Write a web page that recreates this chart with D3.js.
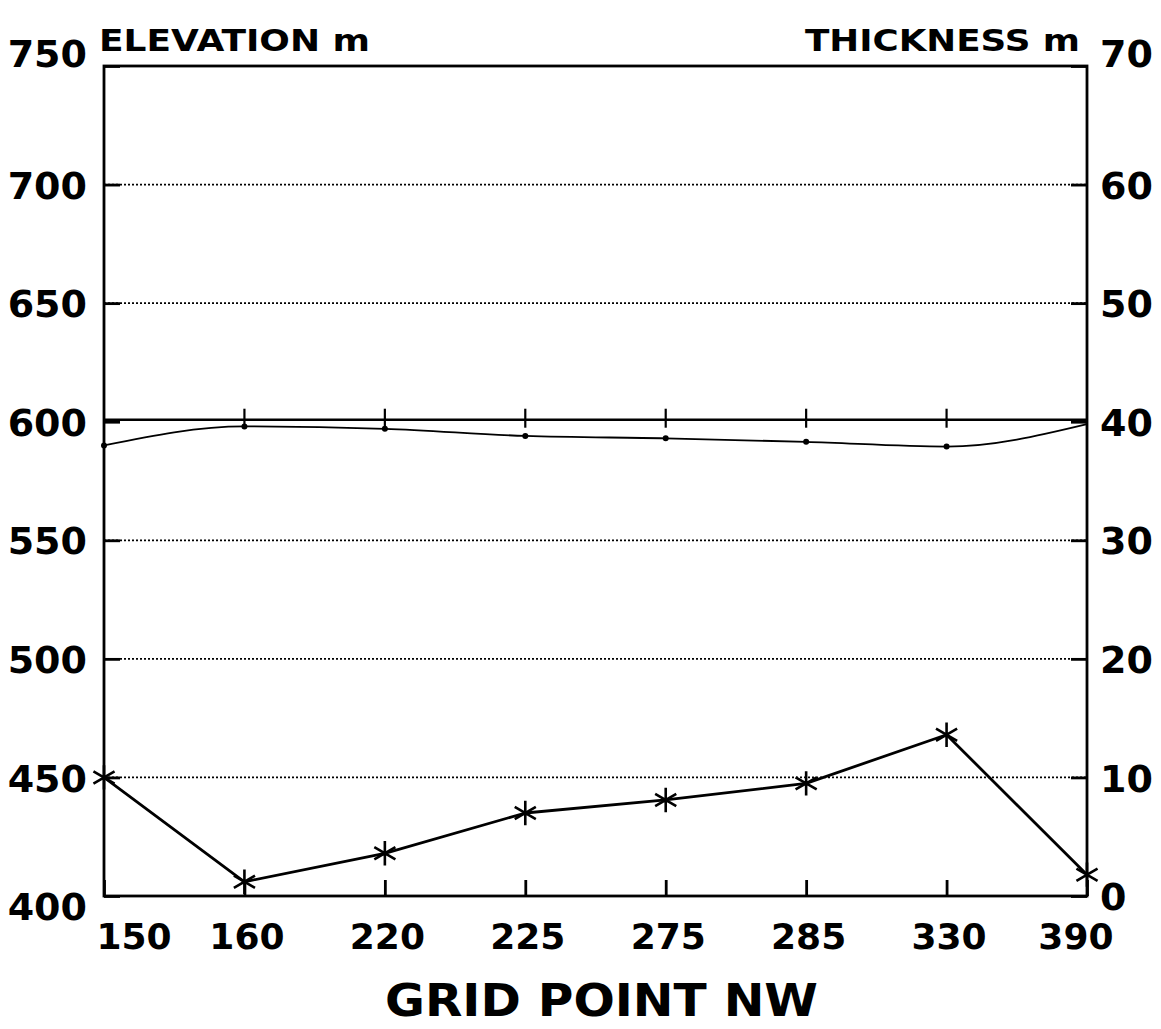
<!DOCTYPE html>
<html lang="en">
<head>
    <meta charset="UTF-8">
    <title>Elevation and thickness by grid point</title>
    <script src="https://cdn.jsdelivr.net/npm/d3@7"></script>
    <style>
        body { margin: 0; background: #fff; }
        svg { display: block; }
        text { font-family: "DejaVu Sans", "Liberation Sans", Arial, sans-serif; font-weight: bold; fill: #000; }
    </style>
</head>
<body>
    <div id="chart-space"></div>

    <script>
        // data
        var gridPoints = ["150", "160", "220", "225", "275", "285", "330", "390"];
        var elevation = [590, 598, 597, 594, 593, 591.5, 589.5, 599];
        var thickness = [10, 1.2, 3.6, 7.0, 8.1, 9.5, 13.6, 1.8];
        var elevTicks = [400, 450, 500, 550, 600, 650, 700, 750];
        var thickTicks = [0, 10, 20, 30, 40, 50, 60, 70];

        var width = 1161;
        var height = 1029;
        var margin = {top: 66, right: 74, bottom: 133, left: 104};
        var chartWidth = width - margin.left - margin.right;
        var chartHeight = height - margin.top - margin.bottom;

        var svg = d3.select("#chart-space")
            .append("svg")
            .attr("width", width)
            .attr("height", height);

        var g = svg.append("g")
            .attr("transform", "translate(" + margin.left + "," + margin.top + ")");

        var xScale = d3.scalePoint().domain(gridPoints).range([0, chartWidth]);
        var yElev = d3.scaleLinear().domain([400, 750]).range([chartHeight, 0]);
        var yThick = d3.scaleLinear().domain([0, 70]).range([chartHeight, 0]);

        // dotted grid lines (600 is drawn solid below)
        g.selectAll(".grid")
            .data(elevTicks.filter(function(d) { return d > 400 && d < 750 && d !== 600; }))
            .join("line")
            .attr("x1", 0).attr("x2", chartWidth)
            .attr("y1", function(d) { return yElev(d); })
            .attr("y2", function(d) { return yElev(d); })
            .attr("stroke", "#000")
            .attr("stroke-width", 1.7)
            .attr("stroke-dasharray", "2,2");

        // solid reference line at 600 with ticks at each grid point
        g.append("line")
            .attr("x1", 0).attr("x2", chartWidth)
            .attr("y1", yElev(600) - 2).attr("y2", yElev(600) - 2)
            .attr("stroke", "#000").attr("stroke-width", 2.4);

        g.selectAll(".reftick")
            .data(gridPoints.slice(1, -1))
            .join("line")
            .attr("x1", function(d) { return xScale(d); })
            .attr("x2", function(d) { return xScale(d); })
            .attr("y1", yElev(600) - 13)
            .attr("y2", yElev(600) + 6)
            .attr("stroke", "#000").attr("stroke-width", 2.2);

        // axes
        var leftAxis = g.append("g")
            .call(d3.axisLeft(yElev).tickValues(elevTicks).tickSize(-16).tickPadding(17).tickFormat(d3.format("d")));
        var rightAxis = g.append("g")
            .attr("transform", "translate(" + chartWidth + ",0)")
            .call(d3.axisRight(yThick).tickValues(thickTicks).tickSize(-16).tickPadding(13).tickFormat(d3.format("d")));
        var bottomAxis = g.append("g")
            .attr("transform", "translate(0," + chartHeight + ")")
            .call(d3.axisBottom(xScale).tickSize(-16).tickPadding(27));

        [leftAxis, rightAxis, bottomAxis].forEach(function(ax) {
            ax.select(".domain").remove();
            ax.selectAll("line").attr("stroke", "#000").attr("stroke-width", 2.8);
            ax.selectAll("text").style("font-size", "38px").attr("fill", "#000");
        });

        leftAxis.selectAll("text").attr("dy", function(d) {
            if (d === 750) return "0.02em";
            if (d === 400) return "0.62em";
            return "0.36em";
        });
        rightAxis.selectAll("text").attr("dy", function(d) {
            return d === 70 ? "0.02em" : "0.36em";
        });
        bottomAxis.selectAll("text")
            .style("font-size", "36px")
            .attr("text-anchor", function(d, i) {
                if (i === 0) return "start";
                if (i === gridPoints.length - 1) return "end";
                return "middle";
            })
            .attr("x", function(d, i) {
                if (i === 0) return -8;
                if (i === gridPoints.length - 1) return 26;
                return 2;
            });

        // frame
        g.append("rect")
            .attr("width", chartWidth).attr("height", chartHeight)
            .attr("fill", "none").attr("stroke", "#000").attr("stroke-width", 2.8);

        // elevation curve
        var elevLine = d3.line()
            .x(function(d, i) { return xScale(gridPoints[i]); })
            .y(function(d) { return yElev(d); })
            .curve(d3.curveMonotoneX);

        g.append("path")
            .datum(elevation)
            .attr("d", elevLine)
            .attr("fill", "none").attr("stroke", "#000").attr("stroke-width", 1.8);

        g.selectAll(".elevdot")
            .data(elevation.slice(0, -1))
            .join("circle")
            .attr("cx", function(d, i) { return xScale(gridPoints[i]); })
            .attr("cy", function(d) { return yElev(d); })
            .attr("r", 3)
            .attr("fill", "#000");

        // thickness line with asterisks
        var thickLine = d3.line()
            .x(function(d, i) { return xScale(gridPoints[i]); })
            .y(function(d) { return yThick(d); });

        g.append("path")
            .datum(thickness)
            .attr("d", thickLine)
            .attr("fill", "none").attr("stroke", "#000").attr("stroke-width", 2.8)
            .attr("stroke-linejoin", "round");

        g.selectAll(".star")
            .data(thickness)
            .join("path")
            .attr("transform", function(d, i) {
                return "translate(" + xScale(gridPoints[i]) + "," + yThick(d) + ")";
            })
            .attr("d", d3.symbol(d3.symbolAsterisk, 420))
            .attr("fill", "none").attr("stroke", "#000").attr("stroke-width", 2.6);

        // titles
        svg.append("text")
            .attr("x", 99).attr("y", 51)
            .attr("textLength", 271).attr("lengthAdjust", "spacingAndGlyphs")
            .style("font-size", "31px")
            .text("ELEVATION m");

        svg.append("text")
            .attr("x", 805).attr("y", 51)
            .attr("textLength", 275).attr("lengthAdjust", "spacingAndGlyphs")
            .style("font-size", "31px")
            .text("THICKNESS m");

        svg.append("text")
            .attr("x", 385).attr("y", 1016)
            .attr("textLength", 433).attr("lengthAdjust", "spacingAndGlyphs")
            .style("font-size", "45px")
            .text("GRID POINT NW");
    </script>
</body>
</html>
